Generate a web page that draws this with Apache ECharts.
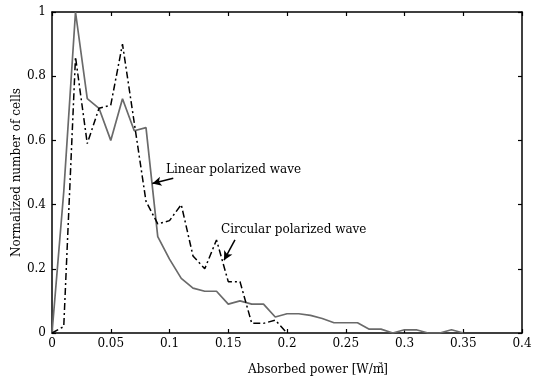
<!DOCTYPE html>
<html><head><meta charset="utf-8">
<script src="https://cdn.jsdelivr.net/npm/echarts@6/dist/echarts.min.js"></script>
<style>html,body{margin:0;padding:0;background:#fff}#c{width:544px;height:376px}</style>
</head><body><div id="c"></div>
<script>
const linearX = [0, 0.01, 0.02, 0.03, 0.04, 0.05, 0.06, 0.07, 0.08, 0.09, 0.10, 0.11, 0.12, 0.13, 0.14, 0.15, 0.16, 0.17, 0.18, 0.19, 0.20, 0.21, 0.22, 0.23, 0.24, 0.25, 0.26, 0.27, 0.28, 0.29, 0.30, 0.31, 0.32, 0.33, 0.34, 0.35];
const linearY = [0, 0.44, 1.0, 0.73, 0.70, 0.60, 0.73, 0.63, 0.64, 0.30, 0.23, 0.17, 0.14, 0.13, 0.13, 0.09, 0.10, 0.09, 0.09, 0.05, 0.06, 0.06, 0.055, 0.045, 0.032, 0.032, 0.032, 0.012, 0.012, 0, 0.01, 0.01, 0, 0, 0.01, 0];
const circularX = [0, 0.01, 0.02, 0.03, 0.04, 0.05, 0.06, 0.07, 0.08, 0.09, 0.10, 0.11, 0.12, 0.13, 0.14, 0.15, 0.16, 0.17, 0.18, 0.19, 0.20];
const circularY = [0, 0.02, 0.86, 0.59, 0.70, 0.71, 0.90, 0.655, 0.41, 0.34, 0.35, 0.40, 0.24, 0.20, 0.29, 0.16, 0.16, 0.03, 0.03, 0.04, 0];
const xTicks = [0, 0.05, 0.1, 0.15, 0.2, 0.25, 0.3, 0.35, 0.4];
const yTicks = [0, 0.2, 0.4, 0.6, 0.8, 1];
const linearArrow = [[0.1032, 0.482], [0.0854, 0.466]];
const circularArrow = [[0.1557, 0.29], [0.1464, 0.227]];
const labels = ['Linear polarized wave', 'Circular polarized wave'];

const font = 'DejaVu Serif';
const chart = echarts.init(document.getElementById('c'));
const axLine = {show: true, onZero: false, lineStyle: {color: '#000', width: 1.5}};
const tick = {show: true, inside: true, length: 4, lineStyle: {color: '#000', width: 1.2}};
function arrowLine(pts) {
  return {
    silent: true, symbol: ['none', 'arrow'], symbolSize: [7, 9],
    lineStyle: {color: '#000', width: 1.5, type: 'solid'}, label: {show: false},
    data: [[{coord: pts[0]}, {coord: pts[1]}]]
  };
}
const fmt = ticks => v => { const t = ticks.find(a => Math.abs(a - v) < 1e-9); return t === undefined ? '' : String(t); };
chart.setOption({
  animation: false,
  backgroundColor: '#fff',
  grid: {left: 52, right: 22, top: 12, bottom: 43, containLabel: false, outerBoundsMode: 'none'},
  xAxis: [{
    type: 'value', min: 0, max: 0.4, interval: 0.05,
    axisLine: axLine, axisTick: tick, splitLine: {show: false},
    axisLabel: {color: '#000', fontFamily: font, fontSize: 12, margin: 5, formatter: fmt(xTicks)},
    name: 'Absorbed power [W/m{sup|3}]', nameLocation: 'middle', nameGap: 28,
    nameTextStyle: {color: '#000', fontFamily: font, fontSize: 12, padding: [0, 0, 0, 62],
      rich: {sup: {fontSize: 8, fontFamily: font, color: '#000', verticalAlign: 'bottom', padding: [0, 0, 10, -6]}}}
  }, {
    type: 'value', position: 'top', min: 0, max: 0.4, interval: 0.05,
    axisLine: axLine, axisTick: tick, axisLabel: {show: false}, splitLine: {show: false}
  }],
  yAxis: [{
    type: 'value', min: 0, max: 1, interval: 0.2,
    axisLine: axLine, axisTick: tick, splitLine: {show: false},
    axisLabel: {color: '#000', fontFamily: font, fontSize: 12, margin: 6, formatter: fmt(yTicks)},
    name: 'Normalized number of cells', nameLocation: 'middle', nameGap: 29, nameMoveOverlap: false,
    nameTextStyle: {color: '#000', fontFamily: font, fontSize: 12}
  }, {
    type: 'value', position: 'right', min: 0, max: 1, interval: 0.2,
    axisLine: axLine, axisTick: tick, axisLabel: {show: false}, splitLine: {show: false}
  }],
  series: [{
    type: 'line', name: labels[0], showSymbol: false,
    data: linearX.map((x, i) => [x, linearY[i]]),
    lineStyle: {color: '#6a6a6a', width: 1.7},
    markLine: arrowLine(linearArrow), z: 2
  }, {
    type: 'line', name: labels[1], showSymbol: false,
    data: circularX.map((x, i) => [x, circularY[i]]),
    lineStyle: {color: '#000', width: 1.5, type: [7, 3, 2, 3]},
    markLine: arrowLine(circularArrow), z: 3
  }],
  graphic: [
    {type: 'text', left: 166, top: 164, style: {text: labels[0], fill: '#000', font: '12px "DejaVu Serif"'}},
    {type: 'text', left: 221, top: 224, style: {text: labels[1], fill: '#000', font: '12px "DejaVu Serif"'}}
  ]
});
</script></body></html>
